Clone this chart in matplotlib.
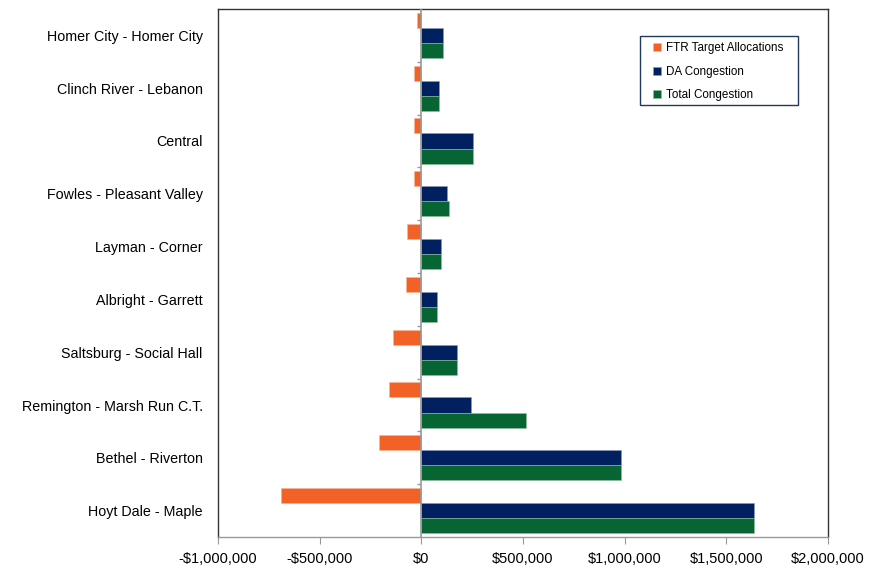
import matplotlib
matplotlib.use("Agg")
from matplotlib import pyplot as plt
from matplotlib.ticker import FuncFormatter
from matplotlib.patches import Rectangle
import numpy as np

plt.rcParams['font.family'] = ['Liberation Sans', 'DejaVu Sans']

# categories, bottom to top
categories = ["Hoyt Dale - Maple", "Bethel - Riverton", "Remington - Marsh Run C.T.",
              "Saltsburg - Social Hall", "Albright - Garrett", "Layman - Corner",
              "Fowles - Pleasant Valley", "Central", "Clinch River - Lebanon",
              "Homer City - Homer City"]
ftr = [-690000, -206000, -157000, -137000, -74000, -69000, -34000, -34000, -34000, -20000]
da_cong = [1635000, 980000, 245000, 176000, 78000, 98000, 127000, 255000, 88000, 108000]
total_cong = [1635000, 980000, 515000, 176000, 78000, 98000, 137000, 255000, 88000, 108000]

c_ftr = '#F26125'
c_da = '#002060'
c_tot = '#076534'

W, H = 884, 569
fig = plt.figure(figsize=(W/100, H/100), dpi=100)
ax = fig.add_axes([218/W, 1-537/H, (828-218)/W, (537-9)/H])

y = np.arange(len(categories))
w = 0.285
ax.barh(y + w, ftr, height=w, color=c_ftr, label='FTR Target Allocations',
        edgecolor='#f7b79a', linewidth=0.4)
ax.barh(y, da_cong, height=w, color=c_da, label='DA Congestion',
        edgecolor='#8a9bbf', linewidth=0.4)
ax.barh(y - w, total_cong, height=w, color=c_tot, label='Total Congestion',
        edgecolor='#8fbf9f', linewidth=0.4)

# category axis crossing at zero
ax.axvline(0, color='#999999', linewidth=1.2, zorder=3)
ax.hlines(y[:-1] + 0.5, -22000, 0, color='#999999', linewidth=1.0, zorder=3)

ax.set_xlim(-1000000, 2000000)
ax.set_ylim(-0.5, len(categories) - 0.5)
ax.set_xticks(np.arange(-1000000, 2000001, 500000))
ax.xaxis.set_major_formatter(FuncFormatter(
    lambda v, p: ('-$' if v < 0 else '$') + f"{abs(int(v)):,}"))
ax.set_yticks(y)
ax.set_yticklabels(categories)
ax.tick_params(axis='y', length=0, pad=11, labelsize=10.3)
ax.tick_params(axis='x', length=5, color='#999999', pad=6, labelsize=10.5)

for s in ax.spines.values():
    s.set_color('#333333')
    s.set_linewidth(1.0)
ax.spines['bottom'].set_color('#999999')

# legend box drawn separately so the padding matches
fig.patches.append(Rectangle((640/W, 1-105/H), 158/W, 69/H, transform=fig.transFigure,
                             facecolor='white', edgecolor='#1f3a5a', linewidth=1.0,
                             zorder=5))
leg = fig.legend(loc='upper left', bbox_to_anchor=(653/W, 1-42/H), frameon=False,
                 fontsize=8.4, handlelength=0.7, handleheight=0.7,
                 handletextpad=0.4, labelspacing=1.0, borderpad=0, borderaxespad=0)
leg.set_zorder(6)

fig.savefig('out.png', dpi=100)
